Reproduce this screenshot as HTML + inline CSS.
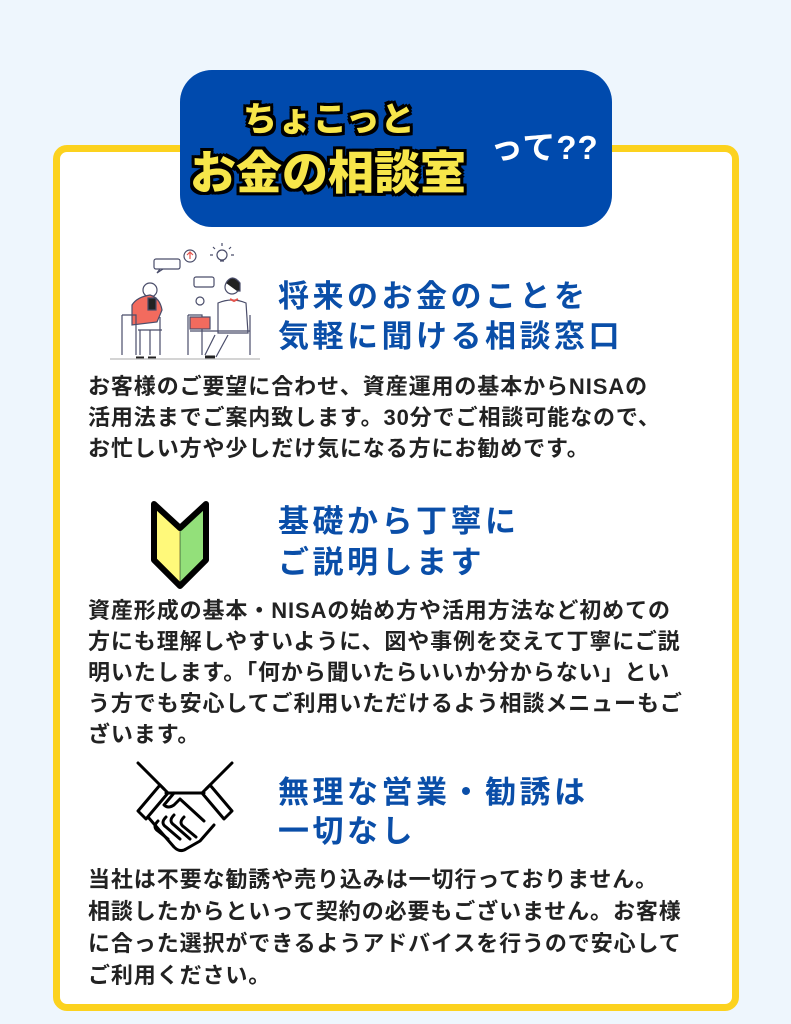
<!DOCTYPE html>
<html><head><meta charset="utf-8"><style>
*{margin:0;padding:0;box-sizing:border-box}
body{width:791px;height:1024px;background:#eef6fd;position:relative;overflow:hidden;font-family:"Liberation Sans","Noto Sans CJK JP",sans-serif}
.frame{position:absolute;left:53px;top:145px;width:686px;height:866px;border:7px solid #fcd21e;border-radius:14px;background:#fff}
.badge{position:absolute;left:180px;top:70px;width:432px;height:157px;background:#004aad;border-radius:32px}
.t{position:absolute;white-space:nowrap}
.h{color:#0a4ea8;font-weight:bold;font-size:31px;letter-spacing:3.5px;line-height:40px}
.b{color:#222;font-weight:bold;font-size:22px;letter-spacing:0.9px;line-height:31px}
.y{color:#f7e64a;font-weight:900;font-family:"Noto Sans CJK JP",sans-serif;
 text-shadow:-3px -3px 0 #000,3px -3px 0 #000,-3px 3px 0 #000,3px 3px 0 #000,0 3px 0 #000,0 -3px 0 #000,3px 0 0 #000,-3px 0 0 #000}
</style></head><body>
<div class="frame"></div>
<div class="badge"></div>
<div class="t y" style="left:243px;top:96px;font-size:34px;line-height:42px;letter-spacing:1px">ちょこっと</div>
<div class="t y" style="left:190px;top:142px;font-size:46px;line-height:56px;letter-spacing:0px">お金の相談室</div>
<div class="t" style="left:490px;top:128px;font-size:33px;color:#fff;font-weight:bold;line-height:40px;letter-spacing:1px">って??</div>

<svg class="t" style="left:110px;top:235px" width="160" height="125" viewBox="0 0 160 125" fill="none" stroke="#4a4d6a" stroke-width="1.2">
<rect x="44" y="24" width="26" height="10" rx="2"/><path d="M50 34l-3 4 6-4"/>
<circle cx="80" cy="21" r="6"/><path d="M80 24v-6M77 20l3-3 3 3" stroke="#e5534b"/>
<circle cx="112" cy="20" r="5"/><path d="M110 26h4M112 8v3M103 12l2 2M121 12l-2 2M100 20h3M121 20h3"/>
<rect x="84" y="42" width="20" height="10" rx="2"/>
<circle cx="40" cy="55" r="7"/><path d="M22 90v-20q5-8 18-10q10 3 12 15l-5 12z" fill="#f26b5e"/>
<path d="M12 80h14v40M12 80v40M50 82v38M28 95h24" />
<path d="M30 95v25M40 95v25"/><path d="M26 123h8M38 123h8" stroke="#222" stroke-width="3"/>
<rect x="38" y="63" width="8" height="12" fill="#222"/>
<circle cx="90" cy="66" r="4"/>
<circle cx="122" cy="52" r="7"/><path d="M116 48q6-10 14 0v8h-3" fill="#222"/>
<path d="M108 68q14-6 28 0l2 30h-30z" fill="#fff"/><path d="M120 64l4 2 4-2" stroke="#e5534b" stroke-width="2"/>
<path d="M78 80h14v40M78 80v40M140 80v40M80 96h60"/><rect x="80" y="82" width="20" height="12" fill="#f26b5e"/>
<path d="M105 100l-10 20M118 100l-12 22"/><path d="M95 122h10" stroke="#222" stroke-width="3"/>
<path d="M0 124h150" stroke="#bbb"/>
</svg>

<div class="t h" style="left:278px;top:277px">将来のお金のことを</div>
<div class="t h" style="left:278px;top:317px">気軽に聞ける相談窓口</div>
<div class="t b" style="left:88px;top:371px">お客様のご要望に合わせ、資産運用の基本からNISAの</div>
<div class="t b" style="left:88px;top:402px">活用法までご案内致します。30分でご相談可能なので、</div>
<div class="t b" style="left:88px;top:433px">お忙しい方や少しだけ気になる方にお勧めです。</div>

<svg class="t" style="left:140px;top:492px" width="80" height="100" viewBox="0 0 80 100">
<path d="M40 36L14 12V68L40 94Z" fill="#fff97a"/><path d="M40 36L66 12V68L40 94Z" fill="#93e07a"/>
<path d="M40 36L14 12V68L40 94L66 68V12Z" fill="none" stroke="#000" stroke-width="6" stroke-linejoin="round"/>
<path d="M40 36V94" stroke="#000" stroke-width="0.5"/>
</svg>
<div class="t h" style="left:278px;top:502px">基礎から丁寧に</div>
<div class="t h" style="left:278px;top:543px">ご説明します</div>
<div class="t b" style="left:88px;top:595px">資産形成の基本・NISAの始め方や活用方法など初めての</div>
<div class="t b" style="left:88px;top:626px">方にも理解しやすいように、図や事例を交えて丁寧にご説</div>
<div class="t b" style="left:88px;top:657px">明いたします。「何から聞いたらいいか分からない」とい</div>
<div class="t b" style="left:88px;top:688px">う方でも安心してご利用いただけるよう相談メニューもご</div>
<div class="t b" style="left:88px;top:719px">ざいます。</div>

<svg class="t" style="left:130px;top:755px" width="110" height="105" viewBox="0 0 110 105" fill="none" stroke="#000" stroke-width="3" stroke-linejoin="round" stroke-linecap="round">
<path d="M8 8L34 34M102 8L76 34"/>
<path d="M30 30L8 56l8 8 22-26zM80 30l22 26-8 8-22-26z"/>
<path d="M36 38h38M44 38l-10 12q4 4 10 0l6-6 24 22"/>
<path d="M18 62l26 30q6 6 12 2l14-8 14-16"/>
<path d="M28 66q-6 6 0 10l10 8M36 62q-6 6 0 10l14 12M44 60q-6 6 0 10l16 14M54 62q-6 6 0 10l12 10"/>
</svg>
<div class="t h" style="left:278px;top:773px">無理な営業・勧誘は</div>
<div class="t h" style="left:278px;top:812px">一切なし</div>
<div class="t b" style="left:88px;top:864px">当社は不要な勧誘や売り込みは一切行っておりません。</div>
<div class="t b" style="left:88px;top:896px">相談したからといって契約の必要もございません。お客様</div>
<div class="t b" style="left:88px;top:928px">に合った選択ができるようアドバイスを行うので安心して</div>
<div class="t b" style="left:88px;top:960px">ご利用ください。</div>
</body></html>
